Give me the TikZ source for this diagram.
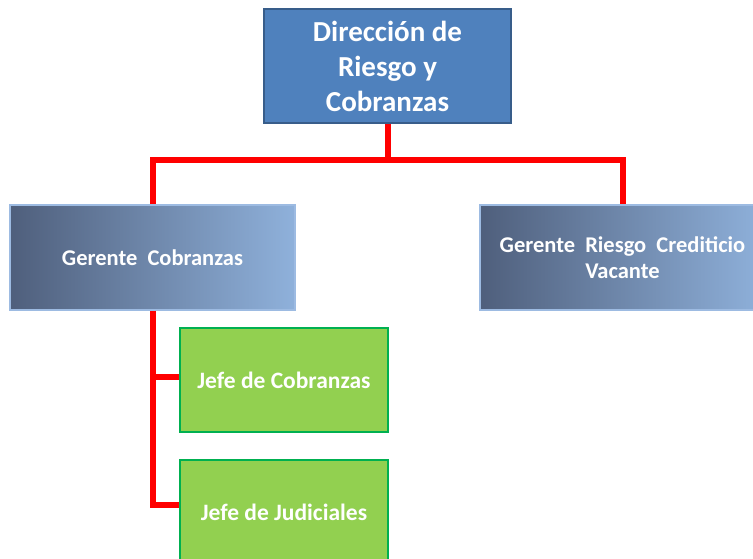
\documentclass[tikz,border=0pt]{standalone}
\usepackage{fontspec}
\setmainfont{Carlito}
\definecolor{topfill}{HTML}{4F81BD}
\definecolor{topline}{HTML}{385D8A}
\definecolor{gleft}{HTML}{4F5F7C}
\definecolor{gright}{HTML}{8FB1DB}
\definecolor{gline}{HTML}{9DBBE2}
\definecolor{jfill}{HTML}{92D050}
\definecolor{jline}{HTML}{00B050}
\definecolor{conn}{HTML}{FF0000}
\begin{document}
\begin{tikzpicture}[x=1pt,y=-1pt,
  topbox/.style={draw=topline,line width=1.5pt,fill=topfill,minimum width=247pt,minimum height=114pt,inner sep=0pt,text=white,font=\bfseries\fontsize{29}{35}\selectfont,align=center},
  gbox/.style={draw=gline,line width=1.5pt,left color=gleft,right color=gright,minimum width=285pt,minimum height=105pt,inner sep=0pt,text=white,font=\bfseries\fontsize{22.5}{26}\selectfont,align=center},
  jbox/.style={draw=jline,line width=1.5pt,fill=jfill,minimum width=208pt,minimum height=104pt,inner sep=0pt,text=white,font=\bfseries\fontsize{23.5}{26}\selectfont,align=center},
  conn/.style={draw=conn,line width=6pt,line join=miter}]
\useasboundingbox (0,0) rectangle (753,559);
\clip (0,0) rectangle (753,559);
\fill[white] (0,0) rectangle (753,559);
\node[topbox] (top) at (387.5,66) {Dirección de\\Riesgo y\\Cobranzas};
\node[gbox] (gc) at (152.5,257.5) {Gerente\ \ Cobranzas};
\node[gbox] (gr) at (622.5,257.5) {Gerente\ \ Riesgo\ \ Crediticio\\Vacante};
\node[jbox] (jc) at (284,380) {Jefe de Cobranzas};
\node[jbox] (jj) at (284,512) {Jefe de Judiciales};
\coordinate (bar) at (387.5,160);
\draw[conn] (top.south) -- (bar);
\draw[conn] (gc.north) |- (bar) -| (gr.north);
\draw[conn] (gc.south) |- ([yshift=3pt]jc.west);
\draw[conn] (gc.south) |- ([yshift=7pt]jj.west);
\end{tikzpicture}
\end{document}
